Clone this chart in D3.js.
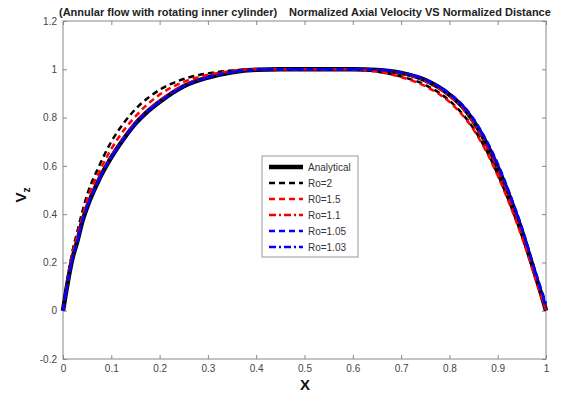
<!DOCTYPE html>
<html><head><meta charset="utf-8">
<script src="https://cdn.jsdelivr.net/npm/d3@7"></script>
<style>body{margin:0;background:#fff}svg{display:block}text{font-family:"Liberation Sans",Arial,sans-serif}</style>
</head><body>
<svg id="c" width="573" height="394"></svg>
<script>
const xs = [0, 0.01, 0.02, 0.03, 0.04, 0.05, 0.075, 0.1, 0.125, 0.15, 0.175, 0.2, 0.25, 0.3, 0.35, 0.4, 0.45, 0.5, 0.55, 0.6, 0.65, 0.7, 0.75, 0.8, 0.825, 0.85, 0.875, 0.9, 0.925, 0.95, 0.97, 0.98, 0.99, 1];
const analytical = [0, 0.12, 0.22, 0.29, 0.37, 0.43, 0.545, 0.635, 0.71, 0.775, 0.825, 0.865, 0.93, 0.966, 0.988, 0.998, 1, 1, 1, 1, 0.997, 0.985, 0.955, 0.895, 0.85, 0.785, 0.70, 0.595, 0.47, 0.33, 0.20, 0.135, 0.07, 0];
const ro2     = [0, 0.14, 0.25, 0.33, 0.41, 0.48, 0.60, 0.70, 0.775, 0.835, 0.88, 0.915, 0.96, 0.983, 0.995, 1, 1, 1, 1, 1, 0.99, 0.97, 0.935, 0.87, 0.82, 0.755, 0.67, 0.565, 0.445, 0.31, 0.19, 0.13, 0.07, 0.02];
const ro15    = [0, 0.13, 0.24, 0.315, 0.39, 0.46, 0.575, 0.67, 0.745, 0.805, 0.855, 0.895, 0.948, 0.977, 0.993, 1, 1, 1, 1, 1, 0.99, 0.968, 0.93, 0.865, 0.815, 0.75, 0.665, 0.56, 0.44, 0.305, 0.185, 0.12, 0.06, 0];
const ro11    = [0, 0.123, 0.225, 0.295, 0.375, 0.437, 0.55, 0.64, 0.715, 0.78, 0.83, 0.87, 0.935, 0.969, 0.99, 0.999, 1, 1, 1, 1, 0.996, 0.983, 0.952, 0.89, 0.845, 0.78, 0.695, 0.59, 0.465, 0.325, 0.195, 0.13, 0.065, 0];
const ro105   = [0, 0.12, 0.22, 0.29, 0.37, 0.43, 0.545, 0.635, 0.71, 0.775, 0.825, 0.865, 0.93, 0.966, 0.988, 0.998, 1, 1, 1, 1, 0.998, 0.987, 0.958, 0.9, 0.857, 0.795, 0.712, 0.61, 0.485, 0.345, 0.215, 0.15, 0.09, 0.03];
const ro103   = [0, 0.12, 0.22, 0.29, 0.37, 0.43, 0.545, 0.635, 0.71, 0.775, 0.825, 0.865, 0.93, 0.966, 0.988, 0.998, 1, 1, 1, 1, 0.998, 0.986, 0.956, 0.897, 0.853, 0.79, 0.706, 0.602, 0.478, 0.338, 0.207, 0.142, 0.078, 0.01];
const seriesNames = ["Analytical", "Ro=2", "R0=1.5", "Ro=1.1", "Ro=1.05", "Ro=1.03"];
const xTicks = [0, 0.1, 0.2, 0.3, 0.4, 0.5, 0.6, 0.7, 0.8, 0.9, 1];
const yTicks = [-0.2, 0, 0.2, 0.4, 0.6, 0.8, 1, 1.2];

const series = [
  {name: seriesNames[0], vals: analytical, color: "#000", w: 4.5, dash: null},
  {name: seriesNames[1], vals: ro2, color: "#000", w: 2.5, dash: "6,4"},
  {name: seriesNames[2], vals: ro15, color: "#f00", w: 2.5, dash: "6,4"},
  {name: seriesNames[3], vals: ro11, color: "#e00", w: 2.5, dash: "7,3,2,3"},
  {name: seriesNames[4], vals: ro105, color: "#00f", w: 2.5, dash: "6,4"},
  {name: seriesNames[5], vals: ro103, color: "#00f", w: 2.5, dash: "7,3,2,3"}
];

const L = 63, R = 546, T = 21, B = 359;
const svg = d3.select("#c");
const x = d3.scaleLinear().domain([0, 1]).range([L, R]);
const y = d3.scaleLinear().domain([-0.2, 1.2]).range([B, T]);
const axisCol = "#888";
const fmt = d => d === 0 ? "0" : (Number.isInteger(d) ? String(d) : String(+d.toFixed(1)));

svg.append("rect").attr("x", L).attr("y", T).attr("width", R - L).attr("height", B - T)
  .attr("fill", "none").attr("stroke", axisCol).attr("stroke-width", 1);

const gx = svg.append("g").attr("transform", `translate(0,${B})`)
  .call(d3.axisBottom(x).tickValues(xTicks).tickSize(-4).tickPadding(6).tickFormat(fmt));
const gxt = svg.append("g").attr("transform", `translate(0,${T})`)
  .call(d3.axisTop(x).tickValues(xTicks).tickSize(-4).tickFormat(""));
const gy = svg.append("g").attr("transform", `translate(${L},0)`)
  .call(d3.axisLeft(y).tickValues(yTicks).tickSize(-4).tickPadding(6).tickFormat(fmt));
const gyr = svg.append("g").attr("transform", `translate(${R},0)`)
  .call(d3.axisRight(y).tickValues(yTicks).tickSize(-4).tickFormat(""));
[gx, gxt, gy, gyr].forEach(g => {
  g.select(".domain").remove();
  g.selectAll("line").attr("stroke", axisCol);
  g.selectAll("text").attr("fill", "#444").style("font-size", "10px").style("font-family", "'Liberation Sans',Arial,sans-serif");
});

const line = d3.line().x((d, i) => x(xs[i])).y(d => y(d)).curve(d3.curveMonotoneX);
series.forEach(s => {
  svg.append("path").datum(s.vals).attr("d", line)
    .attr("fill", "none").attr("stroke", s.color).attr("stroke-width", s.w)
    .attr("stroke-dasharray", s.dash).attr("stroke-linejoin", "round");
});

svg.append("text").attr("x", 59).attr("y", 16).attr("font-weight", "bold").style("font-size", "11px")
  .attr("fill", "#222").text("(Annular flow with rotating inner cylinder)");
svg.append("text").attr("x", 289).attr("y", 16).attr("font-weight", "bold").style("font-size", "11px")
  .attr("fill", "#222").text("Normalized Axial Velocity VS Normalized Distance");

svg.append("text").attr("x", 305).attr("y", 390).attr("text-anchor", "middle")
  .attr("font-weight", "bold").style("font-size", "15px").attr("fill", "#111").text("X");
const yl = svg.append("text").attr("transform", "translate(26,195) rotate(-90)").attr("text-anchor", "middle")
  .attr("font-weight", "bold").style("font-size", "15px").attr("fill", "#111");
yl.append("tspan").text("V");
yl.append("tspan").attr("dy", 4).style("font-size", "10px").text("z");

const lg = svg.append("g");
lg.append("rect").attr("x", 262).attr("y", 156).attr("width", 96).attr("height", 101)
  .attr("fill", "#fff").attr("stroke", "#999");
series.forEach((s, i) => {
  const yy = 167 + i * 16;
  lg.append("line").attr("x1", 269).attr("x2", 303).attr("y1", yy).attr("y2", yy)
    .attr("stroke", s.color).attr("stroke-width", i === 0 ? 4.5 : 2.5).attr("stroke-dasharray", s.dash);
  lg.append("text").attr("x", 308).attr("y", yy + 3.5).style("font-size", "10px").attr("fill", "#333").text(s.name);
});
</script>
</body></html>
